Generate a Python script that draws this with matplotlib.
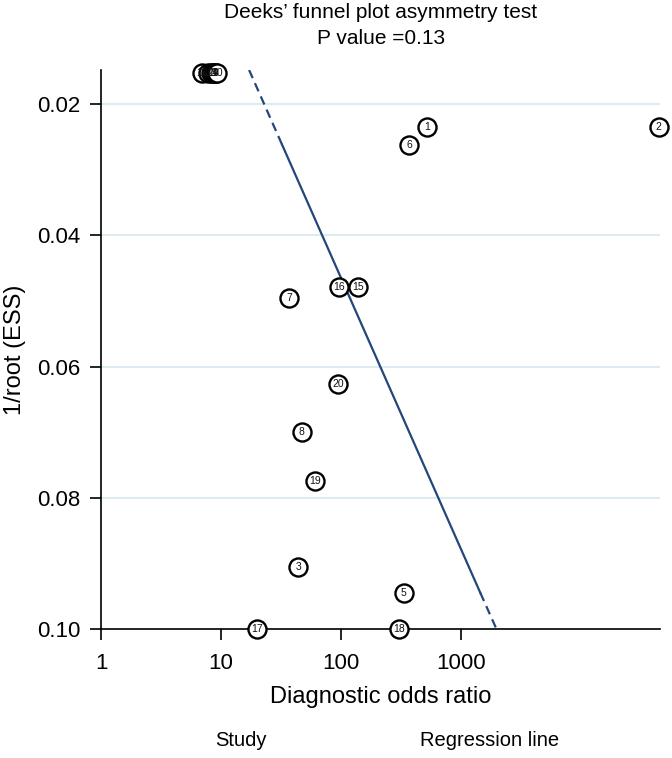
import matplotlib
matplotlib.use("Agg")
import matplotlib.pyplot as plt

plt.rcParams["font.family"] = ["Liberation Sans", "DejaVu Sans"]

# study points: label, diagnostic odds ratio, 1/root(ESS)
study_labels = ["11", "12", "13", "14", "4", "9", "10",
                "1", "2", "6", "16", "15", "7", "20", "8", "19", "3", "5", "17", "18"]
study_dor = [6.9, 7.8, 8.2, 8.5, 8.8, 9.0, 9.3,
             520, 44000, 370, 96, 139, 37, 94, 47, 61, 44, 330, 20, 305]
study_ess = [0.0153, 0.0153, 0.0153, 0.0153, 0.0153, 0.0153, 0.0153,
             0.0235, 0.0235, 0.0262, 0.0479, 0.0479, 0.0496, 0.0627, 0.0700,
             0.0774, 0.0905, 0.0945, 0.1000, 0.1000]

# regression line read at its ends and where the solid part starts/stops
reg_ess = [0.0148, 0.0262, 0.0945, 0.1000]
reg_dor = [17.1, 32.2, 1440, 1960]

x_ticks = [1, 10, 100, 1000]
x_ticklabels = ["1", "10", "100", "1000"]
y_ticks = [0.02, 0.04, 0.06, 0.08, 0.10]
y_ticklabels = ["0.02", "0.04", "0.06", "0.08", "0.10"]

line_color = "#24467a"
grid_color = "#dcecf0"

fig = plt.figure(figsize=(6.72, 7.58), dpi=100)
ax = fig.add_axes([0.1503, 0.1702, 0.8317, 0.7375])

ax.set_xscale("log")
ax.set_xlim(1, 45000)
ax.set_ylim(0.100, 0.0148)

for yv in y_ticks[:-1]:
    ax.axhline(yv, color=grid_color, linewidth=1.5, zorder=0)

# regression line: dashed ends, solid middle
ax.plot(reg_dor[:2], reg_ess[:2], color=line_color, linewidth=1.6, dashes=(4, 2.5))
ax.plot(reg_dor[1:3], reg_ess[1:3], color=line_color, linewidth=1.6)
ax.plot(reg_dor[2:], reg_ess[2:], color=line_color, linewidth=1.6, dashes=(4, 2.5))

for lab, xv, yv in zip(study_labels, study_dor, study_ess):
    ax.plot(xv, yv, marker="o", markersize=13, markerfacecolor="white",
            markeredgecolor="black", markeredgewidth=1.7, linestyle="none",
            clip_on=False, zorder=3)
    ax.text(xv, yv, lab, fontsize=7.5, ha="center", va="center",
            color="#111111", zorder=4, clip_on=False)

ax.set_xticks(x_ticks)
ax.set_xticklabels(x_ticklabels)
ax.minorticks_off()
ax.set_yticks(y_ticks)
ax.set_yticklabels(y_ticklabels)
ax.tick_params(axis="both", labelsize=16, length=8, width=1.2, direction="out")
ax.tick_params(axis="x", pad=9)
ax.tick_params(axis="y", pad=7)

for side in ["top", "right"]:
    ax.spines[side].set_visible(False)
for side in ["left", "bottom"]:
    ax.spines[side].set_linewidth(1.2)

ax.set_xlabel("Diagnostic odds ratio", fontsize=17)
ax.xaxis.set_label_coords(0.5, -0.1216)
ax.xaxis.label.set_va("center")
ax.set_ylabel("1/root (ESS)", fontsize=17)
ax.yaxis.set_label_coords(-0.154, 0.5)
ax.yaxis.label.set_va("center")

fig.text(381 / 672, 1 - 13 / 758, "Deeks\u2019 funnel plot asymmetry test",
         ha="center", va="center", fontsize=15)
fig.text(381 / 672, 1 - 39 / 758, "P value =0.13",
         ha="center", va="center", fontsize=15)

fig.text(241 / 672, 1 - 741 / 758, "Study", ha="center", va="center", fontsize=14.5)
fig.text(490 / 672, 1 - 741 / 758, "Regression line", ha="center", va="center", fontsize=14.5)

fig.savefig("out.png", dpi=100)
plt.close(fig)
